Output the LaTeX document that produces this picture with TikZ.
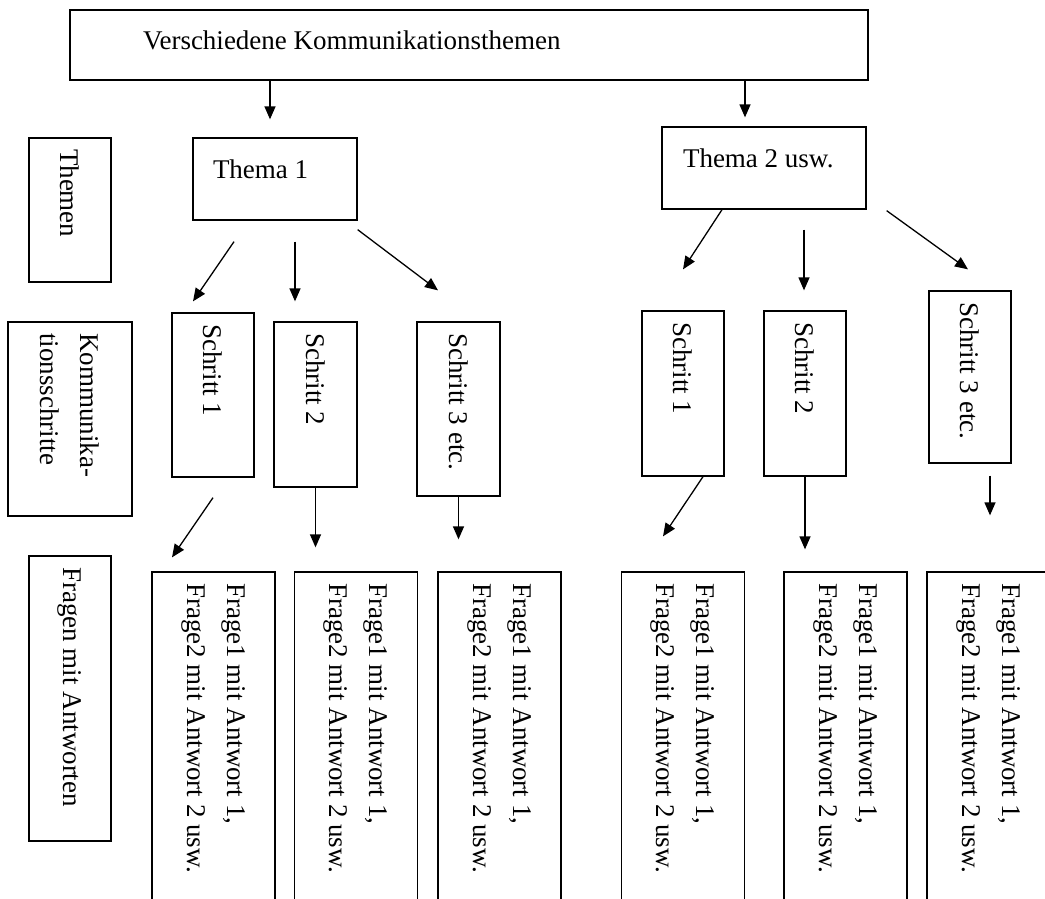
\documentclass[tikz,border=0pt]{standalone}
\usepackage{fontspec}
\setmainfont{Liberation Serif}
\usepackage{tikz}
\usetikzlibrary{arrows.meta}

\begin{document}
\begin{tikzpicture}[
    x=1pt, y=-1pt,
    box/.style={draw, line width=1.3pt, inner ysep=0pt, font=\fontsize{27pt}{40pt}\selectfont},
    topicbox/.style={box, align=flush left, text depth=20pt, minimum height=82pt},
    vbox/.style={box, rotate=-90, align=flush left, inner xsep=11pt},
    stepbox/.style={vbox, minimum height=82pt},
    answerbox/.style={vbox, minimum width=348pt, text width=326pt, minimum height=123pt},
    link/.style={-{Triangle[length=13pt,width=11pt]}, line width=1.3pt},
]
    \useasboundingbox (0,0) rectangle (1045,898);
    \clip (0,0) rectangle (1045,898);

    % Top box
    \node[box, align=flush left, inner xsep=73pt, text width=652pt, minimum height=70pt, text depth=10pt]
        (topics) at (469,45) {Verschiedene Kommunikationsthemen};

    % Row labels on the left
    \node[vbox, minimum width=144pt, text width=122pt, minimum height=82pt] (lblthemen) at (70,210) {Themen};
    \node[vbox, minimum width=194pt, text width=172pt, minimum height=124pt] (lblschritte) at (70,419) {Kommunika-\\tionsschritte};
    \node[vbox, minimum width=285pt, text width=263pt, minimum height=82pt] (lblfragen) at (70,698.5) {Fragen mit Antworten};

    % Themes
    \node[topicbox, inner xsep=20pt, text width=124pt] (thema1) at (275,179) {Thema 1};
    \node[topicbox, inner xsep=21pt, text width=162pt] (thema2) at (764,168) {Thema 2 usw.};

    % Steps of theme 1
    \node[stepbox, minimum width=164pt, text width=142pt] (s11) at (213,395) {Schritt 1};
    \node[stepbox, minimum width=165pt, text width=143pt, minimum height=83pt] (s12) at (315.5,404.5) {Schritt 2};
    \node[stepbox, minimum width=174pt, text width=152pt, minimum height=83pt] (s13) at (458.5,409) {Schritt 3 etc.};

    % Steps of theme 2
    \node[stepbox, minimum width=165pt, text width=143pt] (s21) at (683,393.5) {Schritt 1};
    \node[stepbox, minimum width=165pt, text width=143pt] (s22) at (805,393.5) {Schritt 2};
    \node[stepbox, minimum width=172pt, text width=150pt] (s23) at (970,377) {Schritt 3 etc.};

    % Questions with answers (run off the bottom edge)
    \foreach \n/\x in {f11/213.5, f12/356, f13/499.5, f21/683, f22/845.5, f23/988.5} {
        \node[answerbox] (\n) at (\x,746) {Frage1 mit Antwort 1,\\Frage2 mit Antwort 2 usw.};
    }

    % Arrows top -> themes
    \draw[link] ([xshift=-199pt]topics.south) -- ([xshift=-5pt,yshift=18pt]thema1.north);
    \draw[link] ([xshift=276pt]topics.south) -- ([xshift=-19pt,yshift=9pt]thema2.north);

    % Arrows themes -> steps
    \draw[link] ([xshift=-41pt,yshift=-21pt]thema1.south) -- ([xshift=-20pt,yshift=11pt]s11.west);
    \draw[link] ([xshift=20pt,yshift=-21pt]thema1.south) -- ([xshift=-20.5pt,yshift=20pt]s12.west);
    \draw[link] ([yshift=-9pt]thema1.south east) -- ([xshift=-20.5pt,yshift=31pt]s13.west);
    \draw[link] ([xshift=-42pt]thema2.south) -- ([yshift=41pt]s21.west);
    \draw[link] ([xshift=40pt,yshift=-20pt]thema2.south) -- ([xshift=-1pt,yshift=20pt]s22.west);
    \draw[link] ([xshift=20pt,yshift=-1pt]thema2.south east) -- ([xshift=-2pt,yshift=21pt]s23.west);

    % Arrows steps -> questions
    \draw[link] ([yshift=-20pt]s11.east) -- ([xshift=-41.5pt,yshift=14pt]f11.west);
    \draw[link] (s12.east) -- ([xshift=-40.5pt,yshift=24pt]f12.west);
    \draw[link] (s13.east) -- ([xshift=-41pt,yshift=32pt]f13.west);
    \draw[link] ([xshift=20pt]s21.east) -- ([xshift=-20pt,yshift=35pt]f21.west);
    \draw[link] (s22.east) -- ([xshift=-40.5pt,yshift=22pt]f22.west);
    \draw[link] ([xshift=20pt,yshift=-12pt]s23.east) -- ([xshift=1.5pt,yshift=56pt]f23.west);
\end{tikzpicture}
\end{document}
